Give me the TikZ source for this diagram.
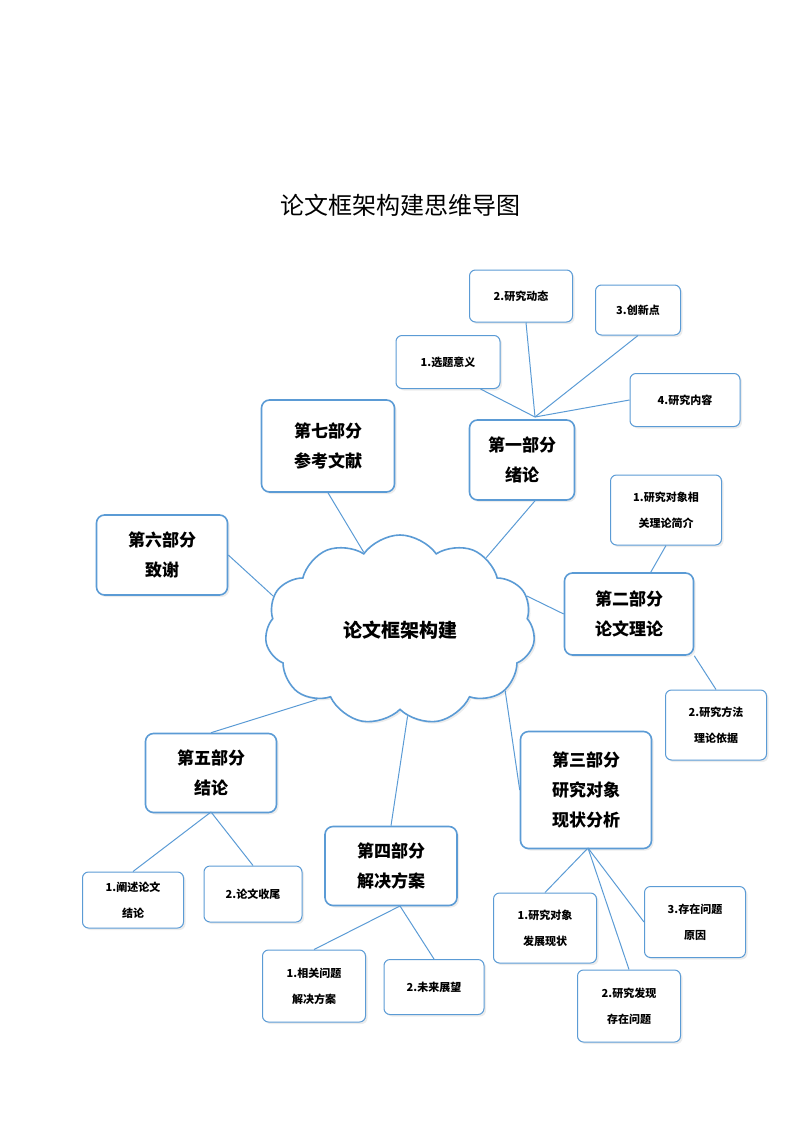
\documentclass[tikz,border=0pt]{standalone}
\usepackage{fontspec}
\setmainfont{Noto Sans CJK SC}
\newfontfamily\cjkb{Noto Sans CJK SC Bold}
\usetikzlibrary{shapes.symbols,shadows}
\definecolor{bl}{HTML}{5B9BD5}
\begin{document}
\begin{tikzpicture}[x=1pt,y=-1pt,
  main/.style={draw=bl,line width=1.6pt,rounded corners=8pt,fill=white,align=center,font=\fontsize{17}{30}\selectfont\bfseries,drop shadow={opacity=0.15,shadow xshift=2pt,shadow yshift=-2pt}},
  sub/.style={draw=bl,line width=1pt,rounded corners=6pt,fill=white,align=center,font=\fontsize{11}{26}\selectfont\bfseries,drop shadow={opacity=0.15,shadow xshift=2pt,shadow yshift=-2pt}},
  ln/.style={draw=bl,line width=1pt}]
\useasboundingbox (0,0) rectangle (800,1130);
\node (title) at (400,205) {\fontsize{24}{28}\selectfont 论文框架构建思维导图};
% cloud
\node[cloud,cloud puffs=11,cloud puff arc=110,aspect=1.35,draw=bl,line width=1.6pt,fill=white,minimum width=270pt,minimum height=190pt,font=\fontsize{19}{24}\selectfont\bfseries,drop shadow={opacity=0.15,shadow xshift=2pt,shadow yshift=-2pt}] (c) at (400,630) {论文框架构建};
% main boxes
\node[main,minimum width=105pt,minimum height=80pt] (p1) at (522,460) {第一部分\\绪论};
\node[main,minimum width=133pt,minimum height=92pt] (p7) at (328,446) {第七部分\\参考文献};
\node[main,minimum width=131pt,minimum height=80pt] (p6) at (162,555) {第六部分\\致谢};
\node[main,minimum width=129pt,minimum height=82pt] (p2) at (629,614) {第二部分\\论文理论};
\node[main,minimum width=131pt,minimum height=79pt] (p5) at (211,773) {第五部分\\结论};
\node[main,minimum width=131pt,minimum height=117pt] (p3) at (586,790) {第三部分\\研究对象\\现状分析};
\node[main,minimum width=132pt,minimum height=79pt] (p4) at (391,866) {第四部分\\解决方案};
% sub boxes
\node[sub,minimum width=103pt,minimum height=52pt] (s12) at (521,296) {2.研究动态};
\node[sub,minimum width=85pt,minimum height=50pt] (s13) at (638,310) {3.创新点};
\node[sub,minimum width=104pt,minimum height=53pt] (s11) at (448,362) {1.选题意义};
\node[sub,minimum width=110pt,minimum height=53pt] (s14) at (685,400) {4.研究内容};
\node[sub,minimum width=111pt,minimum height=70pt] (s21) at (666,510) {1.研究对象相\\关理论简介};
\node[sub,minimum width=101pt,minimum height=70pt] (s22) at (716,725) {2.研究方法\\理论依据};
\node[sub,minimum width=101pt,minimum height=56pt] (s51) at (133,900) {1.阐述论文\\结论};
\node[sub,minimum width=98pt,minimum height=56pt,font=\fontsize{11}{14}\selectfont\bfseries] (s52) at (253,894) {2.论文收尾};
\node[sub,minimum width=103pt,minimum height=70pt] (s31) at (545,928) {1.研究对象\\发展现状};
\node[sub,minimum width=101pt,minimum height=71pt] (s33) at (695,922) {3.存在问题\\原因};
\node[sub,minimum width=103pt,minimum height=72pt] (s32) at (629,1006) {2.研究发现\\存在问题};
\node[sub,minimum width=103pt,minimum height=72pt] (s41) at (314,986) {1.相关问题\\解决方案};
\node[sub,minimum width=100pt,minimum height=55pt,font=\fontsize{11}{14}\selectfont\bfseries] (s42) at (434,987) {2.未来展望};
% hubs
\coordinate (h1) at (535,417);
\coordinate (h3) at (588,848);
\coordinate (h4) at (400,906);
\coordinate (h5) at (211,812);
\begin{scope}[on background layer/.style={}]
\end{scope}
% connectors (drawn over; boxes redrawn not needed since lines end at borders)
\draw[ln] (s11.south east) ++(-20,0) -- (h1);
\draw[ln] (s12.south) ++(5,0) -- (h1);
\draw[ln] (s13.south) -- (h1);
\draw[ln] (s14.west) -- (h1);
\draw[ln] (p1.south) ++(13,0) -- (c.40);
\draw[ln] (p7.south) -- (c.115);
\draw[ln] (p6.east) -- (c.165);
\draw[ln] (c.15) -- (p2.west);
\draw[ln] (s21.south) -- ++(-16,28);
\draw[ln] (p2.south east) ++(0,0) -- (s22.north);
\draw[ln] (c.-30) -- (p3.west);
\draw[ln] (c.-85) -- (p4.north);
\draw[ln] (c.-140) -- (p5.north);
\draw[ln] (h3) -- (s31.north);
\draw[ln] (h3) -- (s32.north);
\draw[ln] (h3) -- (s33.west);
\draw[ln] (h4) -- (s41.north);
\draw[ln] (h4) -- (s42.north);
\draw[ln] (h5) -- (s51.north);
\draw[ln] (h5) -- (s52.north);
\end{tikzpicture}
\end{document}
